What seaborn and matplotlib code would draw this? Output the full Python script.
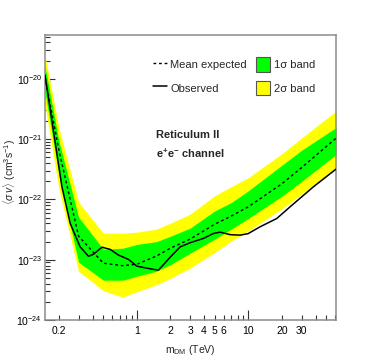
import numpy as np
import matplotlib
matplotlib.use("Agg")
import matplotlib.pyplot as plt
import matplotlib.ticker as mticker
from matplotlib.lines import Line2D
from matplotlib.patches import Patch
import seaborn as sns

# masses (TeV) where the expected limit and bands were read
mass = [0.15, 0.2, 0.3, 0.5, 0.75, 1, 1.5, 2, 3, 5, 7, 10, 20, 30, 61]
mean_expected = [1.06e-20, 6.5e-22, 2.45e-23, 8.75e-24, 7.95e-24, 8.4e-24, 1.15e-23,
                 1.55e-23, 2.19e-23, 3.88e-23, 5.27e-23, 7.54e-23, 1.82e-22, 3.36e-22, 1.03e-21]
band2_up = [2.46e-20, 1.52e-21, 9.0e-23, 2.75e-23, 2.75e-23, 2.86e-23, 3.21e-23,
            4.03e-23, 5.68e-23, 1.15e-22, 1.62e-22, 2.29e-22, 5.73e-22, 1.04e-21, 2.90e-21]
band1_up = [1.62e-20, 9.2e-22, 5.07e-23, 1.49e-23, 1.55e-23, 1.79e-23, 1.99e-23,
            2.45e-23, 3.33e-23, 6.44e-23, 8.81e-23, 1.39e-22, 3.69e-22, 6.52e-22, 1.55e-21]
band1_lo = [6.0e-21, 2.52e-22, 9.1e-24, 4.57e-24, 4.57e-24, 5.33e-24, 6.45e-24,
            8.26e-24, 1.28e-23, 2.19e-23, 3.21e-23, 4.84e-23, 1.13e-22, 1.99e-22, 5.51e-22]
band2_lo = [3.65e-21, 1.48e-22, 6.45e-24, 3.06e-24, 2.39e-24, 2.95e-24, 3.85e-24,
            4.93e-24, 7.23e-24, 1.32e-23, 2.03e-23, 3.0e-23, 6.98e-23, 1.22e-22, 3.36e-22]

# observed limit
obs_mass = [0.15, 0.213, 0.2525, 0.31, 0.368, 0.408, 0.486, 0.576, 0.685, 0.841, 1.0,
            1.27, 1.56, 1.99, 2.44, 3.0, 3.95, 4.86, 5.58, 6.85, 8.43, 9.94, 12.7,
            17.97, 23.6, 38.2, 61]
obs_sigmav = [1.15e-20, 1.59e-22, 3.98e-23, 1.63e-23, 1.14e-23, 1.23e-23, 1.61e-23,
              1.48e-23, 1.19e-23, 1.01e-23, 7.8e-24, 7.15e-24, 6.7e-24, 1.10e-23,
              1.63e-23, 1.91e-23, 2.25e-23, 2.72e-23, 2.86e-23, 2.60e-23, 2.55e-23,
              2.70e-23, 3.50e-23, 4.82e-23, 7.5e-23, 1.61e-22, 3.17e-22]

x_labeled = [0.2, 2, 3, 4, 5, 6, 20, 30]
y_decades = [1e-24, 1e-23, 1e-22, 1e-21, 1e-20]

sns.set_style("white")
plt.rcParams["font.family"] = ["Liberation Sans", "DejaVu Sans"]
plt.rcParams["mathtext.fontset"] = "custom"
plt.rcParams["mathtext.rm"] = "Liberation Sans"
plt.rcParams["mathtext.it"] = "Liberation Sans:italic"
plt.rcParams["mathtext.bf"] = "Liberation Sans:bold"

fig = plt.figure(figsize=(3.74, 3.56), dpi=100)
ax = fig.add_axes([45 / 374, 36 / 356, 291 / 374, 285 / 356])
ax.set_xscale("log")
ax.set_yscale("log")

ax.fill_between(mass, band2_lo, band2_up, color="#ffff00", lw=0, zorder=1)
ax.fill_between(mass, band1_lo, band1_up, color="#00ff00", lw=0, zorder=2)

sns.lineplot(x=mass, y=mean_expected, ax=ax, color="black", lw=1.0,
             linestyle=(0, (2, 2)), zorder=3)
sns.lineplot(x=obs_mass, y=obs_sigmav, ax=ax, color="black", lw=1.1, zorder=4)

ax.set_xlim(0.15, 61)
ax.set_ylim(1e-24, 5.3e-20)

# ticks, ROOT-like
ax.xaxis.set_major_locator(mticker.FixedLocator([1, 10]))
minor_x = [0.2, 0.3, 0.4, 0.5, 0.6, 0.7, 0.8, 0.9, 2, 3, 4, 5, 6, 7, 8, 9, 20, 30, 40, 50, 60]
ax.xaxis.set_minor_locator(mticker.FixedLocator(minor_x))
ax.xaxis.set_major_formatter(mticker.FuncFormatter(lambda v, p: f"{v:g}"))
ax.xaxis.set_minor_formatter(mticker.FuncFormatter(
    lambda v, p: f"{v:g}" if any(abs(v - t) < 1e-9 for t in x_labeled) else ""))
ax.yaxis.set_major_locator(mticker.FixedLocator(y_decades))
minor_y = [k * d for d in [1e-24, 1e-23, 1e-22, 1e-21, 1e-20] for k in range(2, 10)
           if k * d <= 5.3e-20]
ax.yaxis.set_minor_locator(mticker.FixedLocator(minor_y))
ax.yaxis.set_major_formatter(mticker.LogFormatterMathtext())
ax.yaxis.set_minor_formatter(mticker.NullFormatter())

ax.tick_params(which="both", direction="in", colors="#333333", labelcolor="black",
               labelsize=7.5, top=False, right=False, bottom=True, left=True)
ax.tick_params(axis="x", which="major", length=7, width=0.8, pad=4)
ax.tick_params(axis="x", which="minor", length=3.5, width=0.8, pad=4)
ax.tick_params(axis="y", which="major", length=7, width=0.8, pad=2)
ax.tick_params(axis="y", which="minor", length=3.5, width=0.8)
for s in ax.spines.values():
    s.set_color("#8c8c8c")
    s.set_linewidth(1.1)

ax.set_xlabel(r"m$_{\rm DM}$ (TeV)", fontsize=7.5)
ax.set_ylabel(r"$\langle\sigma\,v\rangle$ (cm$^{3}$s$^{-1}$)", fontsize=7.5, va="center")
ax.yaxis.set_label_coords(-35 / 291, 0.52)
ax.xaxis.set_label_coords(0.5, -23 / 285)

handles = [Line2D([], [], color="black", lw=1.0, linestyle=(0, (2, 2))),
           Line2D([], [], color="black", lw=1.1),
           Patch(facecolor="#00ff00", edgecolor="#555555", lw=0.8),
           Patch(facecolor="#ffff00", edgecolor="#555555", lw=0.8)]
labels = ["Mean expected", "Observed", "1σ band", "2σ band"]
fig.legend(handles, labels, loc="upper left", bbox_to_anchor=(152.7 / 374, 1 - 57.3 / 356),
           ncol=2, frameon=False, fontsize=8, borderpad=0, borderaxespad=0,
           handlelength=1.3, handleheight=1.6, handletextpad=0.3, columnspacing=0.8,
           labelspacing=0.85)

fig.text(156 / 374, 1 - 135 / 356, "Reticulum II", fontsize=8, fontweight="bold",
         va="center", ha="left")
fig.text(156 / 374, 1 - 153 / 356, r"$\mathbf{e^{+}e^{-}}$ channel", fontsize=8,
         fontweight="bold", va="center", ha="left")

fig.savefig("out.png", dpi=100)
